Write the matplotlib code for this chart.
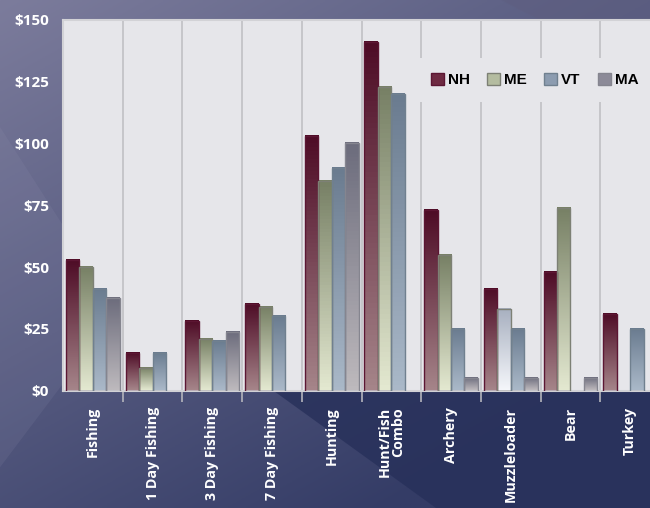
import numpy as np
import matplotlib as mpl
mpl.use('Agg')
import matplotlib.pyplot as plt
from matplotlib.colors import LinearSegmentedColormap
from matplotlib.patches import Polygon, Patch

categories = ['Fishing', '1 Day Fishing', '3 Day Fishing', '7 Day Fishing', 'Hunting',
              'Hunt/Fish\nCombo', 'Archery', 'Muzzleloader', 'Bear', 'Turkey']
states = ['NH', 'ME', 'VT', 'MA']
nh = [53, 15, 28, 35, 103, 141, 73, 41, 48, 31]
me = [50, 9, 21, 34, 85, 123, 55, 33, 74, np.nan]
vt = [41, 15, 20, 30, 90, 120, 25, 25, np.nan, 25]
ma = [37.5, np.nan, 23.5, np.nan, 100, np.nan, 5, 5, 5, np.nan]
yticks = [0, 25, 50, 75, 100, 125, 150]

# top colour, bottom colour, edge colour, legend swatch
styles = {
    'NH': ('#4e0c26', '#a58489', '#5c1633', '#6e2a42'),
    'ME': ('#778065', '#e3e8d0', '#7d8075', '#b4bca0'),
    'VT': ('#6a7c90', '#aab8c8', '#70808f', '#8c9cb0'),
    'MA': ('#6c6c7c', '#bdb9bd', '#85858f', '#8c8a98'),
}
# the ME muzzleloader bar is drawn in a pale blue-white in the original
odd_bar = ('ME', 'Muzzleloader', '#a8b0c0', '#f4f6fa')

plt.rcParams['font.family'] = ['Open Sans', 'DejaVu Sans']

fig = plt.figure(figsize=(6.5, 5.08), dpi=100)

# background
bg = fig.add_axes([0, 0, 1, 1], zorder=-10)
bg.set_axis_off()
yy, xx = np.mgrid[0:1:200j, 0:1:260j]
t = np.clip(0.5 * xx + 0.7 * yy, 0, 1)
c0 = np.array([124, 124, 156]) / 255
c1 = np.array([52, 60, 102]) / 255
img = c0[None, None, :] * (1 - t[..., None]) + c1[None, None, :] * t[..., None]
bg.imshow(img, extent=[0, 1, 0, 1], aspect='auto', origin='upper')
bg.add_patch(Polygon([(0.40, 0.25), (1, 0.25), (1, 0), (0.67, 0)], closed=True,
                     facecolor='#27305a', alpha=0.8, edgecolor='none'))
bg.add_patch(Polygon([(0, 0.75), (0.1, 0.55), (0.1, 0.25), (0, 0.08)], closed=True,
                     facecolor='#9a9ab8', alpha=0.12, edgecolor='none'))
bg.add_patch(Polygon([(0.77, 1), (1, 1), (1, 0.96), (0.83, 0.96)], closed=True,
                     facecolor='#5e5e80', alpha=0.5, edgecolor='none'))
bg.set_xlim(0, 1)
bg.set_ylim(0, 1)

ax = fig.add_axes([63 / 650, 117.5 / 508, 597 / 650, 370.5 / 508])
ax.set_facecolor('#e6e6ea')

x = np.arange(len(categories))
w = 0.225
grad = np.linspace(0, 1, 64).reshape(-1, 1)
for i, (name, vals) in enumerate(zip(states, [nh, me, vt, ma])):
    top, bot, edge, _ = styles[name]
    cmap = LinearSegmentedColormap.from_list(name, [top, bot])
    pos = x + (i - 1.5) * w
    for cat, p, v in zip(categories, pos, vals):
        if np.isnan(v):
            continue
        cm = cmap
        if (name, cat) == odd_bar[:2]:
            cm = LinearSegmentedColormap.from_list('odd', list(odd_bar[2:]))
        ax.imshow(grad, extent=[p - w / 2, p + w / 2, 0, v], cmap=cm,
                  aspect='auto', origin='upper', zorder=3)
    ax.bar(pos, vals, w, fill=False, edgecolor=edge, linewidth=1.0, zorder=4)

for b in np.arange(0.5, len(categories), 1):
    ax.axvline(b, color='#c6c6ca', lw=1.4, zorder=1)

ax.set_xlim(-0.5, len(categories) - 0.5)
ax.set_ylim(0, 150)
ax.set_yticks(yticks)
ax.set_yticklabels(['$%d' % v for v in yticks], color='white', fontsize=11,
                   fontweight='bold')
ax.tick_params(axis='y', length=0, pad=10)
ax.set_xticks(x)
ax.set_xticklabels(categories, rotation=90, color='white', fontsize=10.3,
                   fontweight='bold', va='top', linespacing=0.95,
                   multialignment='right')
ax.tick_params(axis='x', length=0, pad=12)
ax.set_xticks(np.arange(0.5, len(categories), 1), minor=True)
ax.tick_params(axis='x', which='minor', length=8, color='#b4b4bc', width=1.2)
for s in ax.spines.values():
    s.set_color('#d2d2d6')
    s.set_linewidth(1.5)

handles = [Patch(facecolor=styles[n][3], edgecolor=styles[n][2]) for n in states]
leg = ax.legend(handles, states, ncol=4, loc='center left',
                bbox_to_anchor=(408 / 650, 1 - 80 / 508), bbox_transform=fig.transFigure,
                frameon=True, facecolor='#e6e6ea',
                edgecolor='none', framealpha=1, fancybox=False,
                handlelength=0.85, handleheight=0.85, handletextpad=0.25,
                columnspacing=1.15, borderpad=1.0,
                prop={'family': 'Liberation Sans', 'weight': 'bold', 'size': 11})
leg.set_zorder(2)

fig.savefig('out.png', dpi=100)
